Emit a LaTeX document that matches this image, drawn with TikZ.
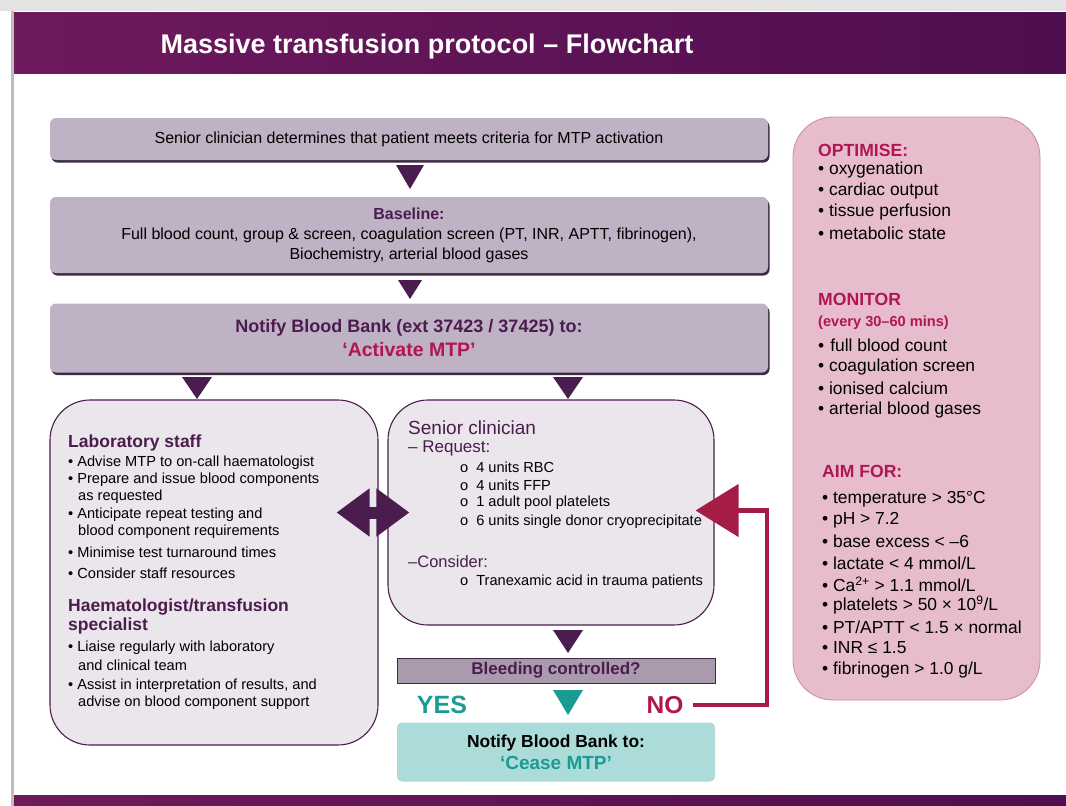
\documentclass[tikz,border=0pt]{standalone}
\usepackage{fontspec}
\setmainfont{Liberation Sans}
\usetikzlibrary{arrows.meta,calc,shadows}
\definecolor{dpurple}{HTML}{4B1D4F}
\definecolor{hdrL}{HTML}{6E1A5C}
\definecolor{hdrR}{HTML}{4E0E50}
\definecolor{boxgray}{HTML}{BEB2C4}
\definecolor{shadowc}{HTML}{3E2A44}
\definecolor{lightbox}{HTML}{EAE6EB}
\definecolor{bleedc}{HTML}{A99AAE}
\definecolor{tealc}{HTML}{1A9C94}
\definecolor{tealbox}{HTML}{ABDCD9}
\definecolor{crimson}{HTML}{B0174F}
\definecolor{redarr}{HTML}{A51D45}
\definecolor{pinkc}{HTML}{E7BDCD}
\definecolor{pinkb}{HTML}{C98AA2}
\definecolor{greyline}{HTML}{BDBDBD}
\definecolor{greystrip}{HTML}{E4E4E4}
\begin{document}
\begin{tikzpicture}[x=1pt,y=-1pt,
  topbox/.style={draw=none,fill=boxgray,rounded corners=6pt,inner sep=0pt,
    drop shadow={shadow xshift=1.5pt,shadow yshift=-2.5pt,fill=shadowc,opacity=1}},
  bigbox/.style={draw=dpurple,line width=1.1pt,fill=lightbox,rounded corners=40pt,inner sep=0pt},
  pinkbox/.style={draw=pinkb,line width=0.8pt,fill=pinkc,rounded corners=40pt,inner sep=0pt},
  txt/.style={inner sep=0pt,anchor=west,font=\fontsize{14.6}{16}\selectfont},
  ptxt/.style={inner sep=0pt,anchor=west,font=\fontsize{17.4}{19}\selectfont},
  phead/.style={inner sep=0pt,anchor=west,text=crimson,font=\bfseries\fontsize{17.6}{19}\selectfont},
  lhead/.style={inner sep=0pt,anchor=west,text=dpurple,font=\bfseries\fontsize{17.5}{19}\selectfont},
  tri/.style={fill=dpurple},
  shaft/.style={draw=dpurple,line width=12pt},
  bigarrow/.style={draw=dpurple,line width=12pt,{Triangle[length=33pt,width=46pt]}-{Triangle[length=33pt,width=46pt]}},
  noarrow/.style={draw=redarr,line width=4.5pt,-{Triangle[length=43pt,width=52pt]}}
]
\useasboundingbox (0,0) rectangle (1066,806);
\fill[white] (0,0) rectangle (1066,806);
% frame
\fill[greystrip] (0,0) rectangle (1066,11);
\fill[greyline] (11,11) rectangle (14,806);
% header band
\shade[left color=hdrL,right color=hdrR] (14,12) rectangle (1066,73);
\node[inner sep=0pt,text=white,font=\bfseries\fontsize{27}{30}\selectfont] (title) at (427,47) {Massive transfusion protocol -- Flowchart};
% footer band
\shade[left color=hdrL,right color=hdrR] (14,795) rectangle (1066,806);

% top boxes
\node[topbox,minimum width=718pt,minimum height=42pt,font=\fontsize{16}{18}\selectfont] (start) at (409,139)
  {Senior clinician determines that patient meets criteria for MTP activation};
\node[topbox,minimum width=718pt,minimum height=76pt,align=center,font=\fontsize{16}{20}\selectfont] (base) at (409,235)
  {\textcolor{dpurple}{\bfseries Baseline:}\\Full blood count, group \& screen, coagulation screen (PT, INR, APTT, fibrinogen),\\Biochemistry, arterial blood gases};
\node[topbox,minimum width=718pt,minimum height=69pt,align=center,font=\bfseries\fontsize{18}{24}\selectfont] (notify) at (409,338)
  {\textcolor{dpurple}{Notify Blood Bank (ext 37423 / 37425) to:}\\\textcolor{crimson}{\fontsize{19.5}{24}\selectfont`Activate MTP'}};

% big boxes
\node[bigbox,minimum width=328pt,minimum height=345pt] (lab) at (214,572.5) {};
\node[bigbox,minimum width=326pt,minimum height=225pt] (senior) at (551,512.5) {};
\node[pinkbox,minimum width=247pt,minimum height=583pt] (pink) at (916.5,408.5) {};

% bleeding / cease boxes
\node[draw=shadowc,line width=0.6pt,fill=bleedc,minimum width=318pt,minimum height=25pt,inner sep=0pt,
  text=dpurple,font=\bfseries\fontsize{17}{19}\selectfont] (bleed) at (556,670.5) {Bleeding controlled?};
\node[fill=tealbox,rounded corners=5pt,minimum width=318pt,minimum height=59pt,inner sep=0pt,align=center,
  font=\bfseries\fontsize{17.4}{22}\selectfont] (cease) at (556,752)
  {Notify Blood Bank to:\\\textcolor{tealc}{\fontsize{19}{22}\selectfont`Cease MTP'}};
\node[inner sep=0pt,text=tealc,font=\bfseries\fontsize{25}{28}\selectfont] (yes) at (442,705) {YES};
\node[inner sep=0pt,text=crimson,font=\bfseries\fontsize{24.5}{28}\selectfont] (nolbl) at (665,705) {NO};

% triangles
\fill[tri] (396,165) -- (424,165) -- (410,189) -- cycle;
\fill[tri] (398,280) -- (422,280) -- (410,299) -- cycle;
\fill[tri] (182,377) -- (212,377) -- (197,399) -- cycle;
\fill[tri] (553,377) -- (583,377) -- (568,399) -- cycle;
\fill[tri] (553,630) -- (583,630) -- (568,653) -- cycle;
\fill[tealc] (553,690) -- (583,690) -- (568,715) -- cycle;

% connectors
\draw[shaft] ($(lab.east |- senior.west)+(-12,0)$) -- ($(senior.west)+(-8,0)$);
\draw[bigarrow] ($(lab.east |- senior.west)+(-42,0)$) -- ($(senior.west)+(22,0)$);
\coordinate (turn) at (767,705);
\draw[noarrow] ($(nolbl.east)+(9,0)$) -- (turn) |- ($(senior.east)+(-19,-2)$);

% laboratory text
\node[lhead] (lh1) at (68,443) {Laboratory staff};
\foreach \yy/\xx/\tt [count=\i] in {
  463/68/{• Advise MTP to on-call haematologist},
  480/68/{• Prepare and issue blood components},
  497/78/{as requested},
  515/68/{• Anticipate repeat testing and},
  532/78/{blood component requirements},
  552/68/{• Minimise test turnaround times},
  573/68/{• Consider staff resources}}
  \node[txt] (lt\i) at (\xx,\yy) {\tt};
\node[lhead] (lh2) at (68,607) {Haematologist/transfusion};
\node[lhead] (lh3) at (68,626) {specialist};
\foreach \yy/\xx/\tt [count=\i] in {
  648/68/{• Liaise regularly with laboratory},
  665/78/{and clinical team},
  686/68/{• Assist in interpretation of results, and},
  703/78/{advise on blood component support}}
  \node[txt] (ht\i) at (\xx,\yy) {\tt};

% senior clinician text
\node[inner sep=0pt,anchor=west,text=dpurple,font=\fontsize{19}{21}\selectfont] (sh1) at (408,428) {Senior clinician};
\node[txt,text=dpurple,font=\fontsize{17}{19}\selectfont] (sh2) at (408,448) {-- Request:};
\foreach \yy/\tt [count=\i] in {
  467/{o\hspace{8pt}4 units RBC},
  485/{o\hspace{8pt}4 units FFP},
  503/{o\hspace{8pt}1 adult pool platelets},
  522/{o\hspace{8pt}6 units single donor cryoprecipitate}}
  \node[txt] (sr\i) at (460,\yy) {\tt};
\node[txt,text=dpurple,font=\fontsize{16.5}{19}\selectfont] (sh3) at (408,562) {--Consider:};
\node[txt] (sc1) at (460,582) {o\hspace{8pt}Tranexamic acid in trauma patients};

% pink panel text
\node[phead] (ph1) at (818,150) {OPTIMISE:};
\foreach \yy/\tt [count=\i] in {
  170/{• oxygenation},
  191/{• cardiac output},
  212/{• tissue perfusion},
  233/{• metabolic state}}
  \node[ptxt] (po\i) at (818,\yy) {\tt};
\node[phead] (ph2) at (818,299) {MONITOR};
\node[phead,font=\bfseries\fontsize{14.6}{16}\selectfont] (ph3) at (818,323) {(every 30--60 mins)};
\foreach \yy/\tt [count=\i] in {
  345/{•\hspace{6pt}full blood count},
  367/{• coagulation screen},
  388/{• ionised calcium},
  410/{• arterial blood gases}}
  \node[ptxt] (pm\i) at (818,\yy) {\tt};
\node[phead] (ph4) at (822,471) {AIM FOR:};
\foreach \yy/\tt [count=\i] in {
  499/{• temperature > 35°C},
  520/{• pH > 7.2},
  541/{• base excess < –6},
  563/{• lactate < 4 mmol/L},
  584/{• Ca\textsuperscript{2+} > 1.1 mmol/L},
  605/{• platelets > 50 × 10\textsuperscript{9}/L},
  627/{• PT/APTT < 1.5 × normal},
  648/{• INR ≤ 1.5},
  670/{• fibrinogen > 1.0 g/L}}
  \node[ptxt] (pa\i) at (822,\yy) {\tt};
\end{tikzpicture}
\end{document}
